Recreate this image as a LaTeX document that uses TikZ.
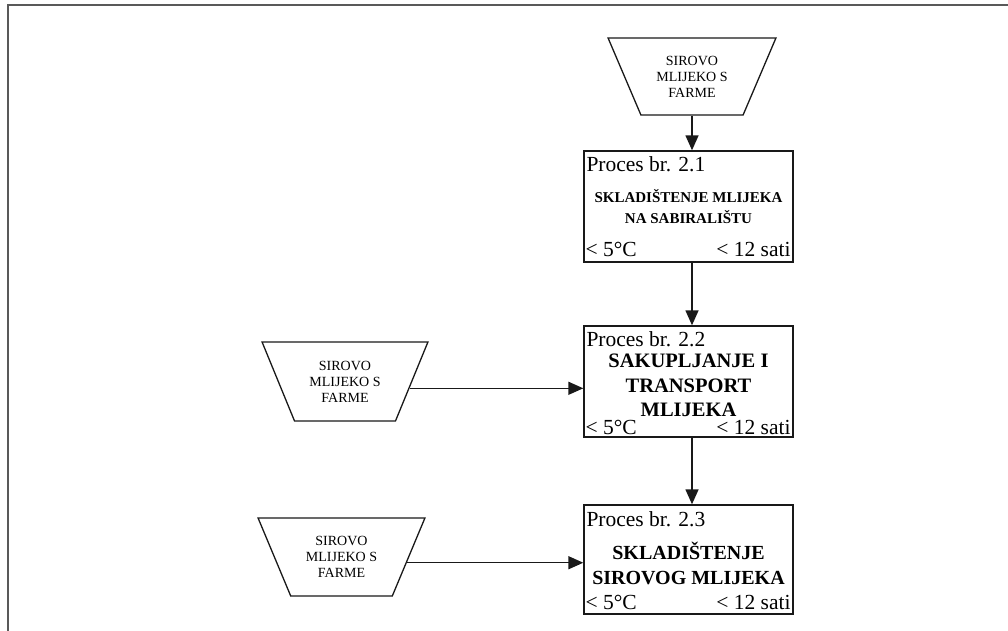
\documentclass[tikz,border=0pt]{standalone}
\usepackage{fontspec}
\setmainfont{Liberation Serif}
\usetikzlibrary{shapes.geometric,arrows.meta}

\begin{document}
\begin{tikzpicture}[x=1pt,y=-1pt,
  frameline/.style={draw=black!65, line width=2pt},
  pbox/.style={draw=black!90, line width=1.4pt, minimum width=209pt,
    minimum height=111pt, inner sep=0pt},
  src/.style={trapezium, draw=black!90, line width=1.3pt, trapezium angle=61,
    shape border rotate=180, trapezium stretches=true, minimum width=167pt,
    minimum height=78pt, inner sep=0pt, align=center,
    font=\fontsize{14}{16}\selectfont},
  phead/.style={anchor=base west, inner sep=0pt, font=\fontsize{21.5}{24}\selectfont},
  ptitle/.style={align=center, inner sep=0pt},
  pcond/.style={inner sep=0pt, font=\fontsize{21.5}{24}\selectfont},
  flow/.style={draw=black!90, line width=1.5pt, -{Triangle[length=15pt,width=13pt]}}
]
\useasboundingbox (0,0) rectangle (1008,630);

% page frame
\draw[frameline] (7.5,632) -- (7.5,5) -- (1010,5);

% raw milk sources
\node[src, minimum width=168pt, minimum height=77pt] (t1) at (692,76.5)
  {SIROVO\\MLIJEKO S\\FARME};
\node[src, minimum width=166pt, minimum height=79pt] (t2) at (345,381.5)
  {SIROVO\\MLIJEKO S\\FARME};
\node[src] (t3) at (341.5,557) {SIROVO\\MLIJEKO S\\FARME};

% process boxes
\node[pbox] (b1) at (688.5,206.5) {};
\node[pbox] (b2) at (688.5,381.5) {};
\node[pbox, minimum height=109pt] (b3) at (688.5,559.5) {};

% process 2.1
\node[phead] (h1) at ([xshift=3pt,yshift=-21pt]b1.north west) {Proces br. 2.1};
\node[ptitle, font=\bfseries\fontsize{15}{21}\selectfont] (n1) at (b1.center)
  {SKLADIŠTENJE MLIJEKA\\NA SABIRALIŠTU};
\node[pcond, anchor=base west] (c1) at ([xshift=2pt,yshift=6pt]b1.south west) {< 5°C};
\node[pcond, anchor=base east] (s1) at ([xshift=-3pt,yshift=6pt]b1.south east) {< 12 sati};

% process 2.2
\node[phead] (h2) at ([xshift=3pt,yshift=-21pt]b2.north west) {Proces br. 2.2};
\node[ptitle, font=\bfseries\fontsize{20.5}{24.5}\selectfont] (n2)
  at ([yshift=-4pt]b2.center) {SAKUPLJANJE I\\TRANSPORT\\MLIJEKA};
\node[pcond, anchor=base west] (c2) at ([xshift=2pt,yshift=3pt]b2.south west) {< 5°C};
\node[pcond, anchor=base east] (s2) at ([xshift=-3pt,yshift=3pt]b2.south east) {< 12 sati};

% process 2.3
\node[phead] (h3) at ([xshift=3pt,yshift=-22pt]b3.north west) {Proces br. 2.3};
\node[ptitle, font=\bfseries\fontsize{20}{25}\selectfont] (n3)
  at ([yshift=-4pt]b3.center) {SKLADIŠTENJE\\SIROVOG MLIJEKA};
\node[pcond, anchor=base west] (c3) at ([xshift=2pt,yshift=5pt]b3.south west) {< 5°C};
\node[pcond, anchor=base east] (s3) at ([xshift=-3pt,yshift=5pt]b3.south east) {< 12 sati};

% flow
\draw[flow] (t1.south) -- (t1.south |- b1.north);
\draw[flow] ([xshift=3.5pt]b1.south) -- ([xshift=3.5pt]b2.north);
\draw[flow] ([xshift=3.5pt]b2.south) -- ([xshift=3.5pt]b3.north);
\draw[flow] (t2.-6) -- (t2.-6 -| b2.west);
\draw[flow] (t3.-5) -- (t3.-5 -| b3.west);
\end{tikzpicture}
\end{document}
